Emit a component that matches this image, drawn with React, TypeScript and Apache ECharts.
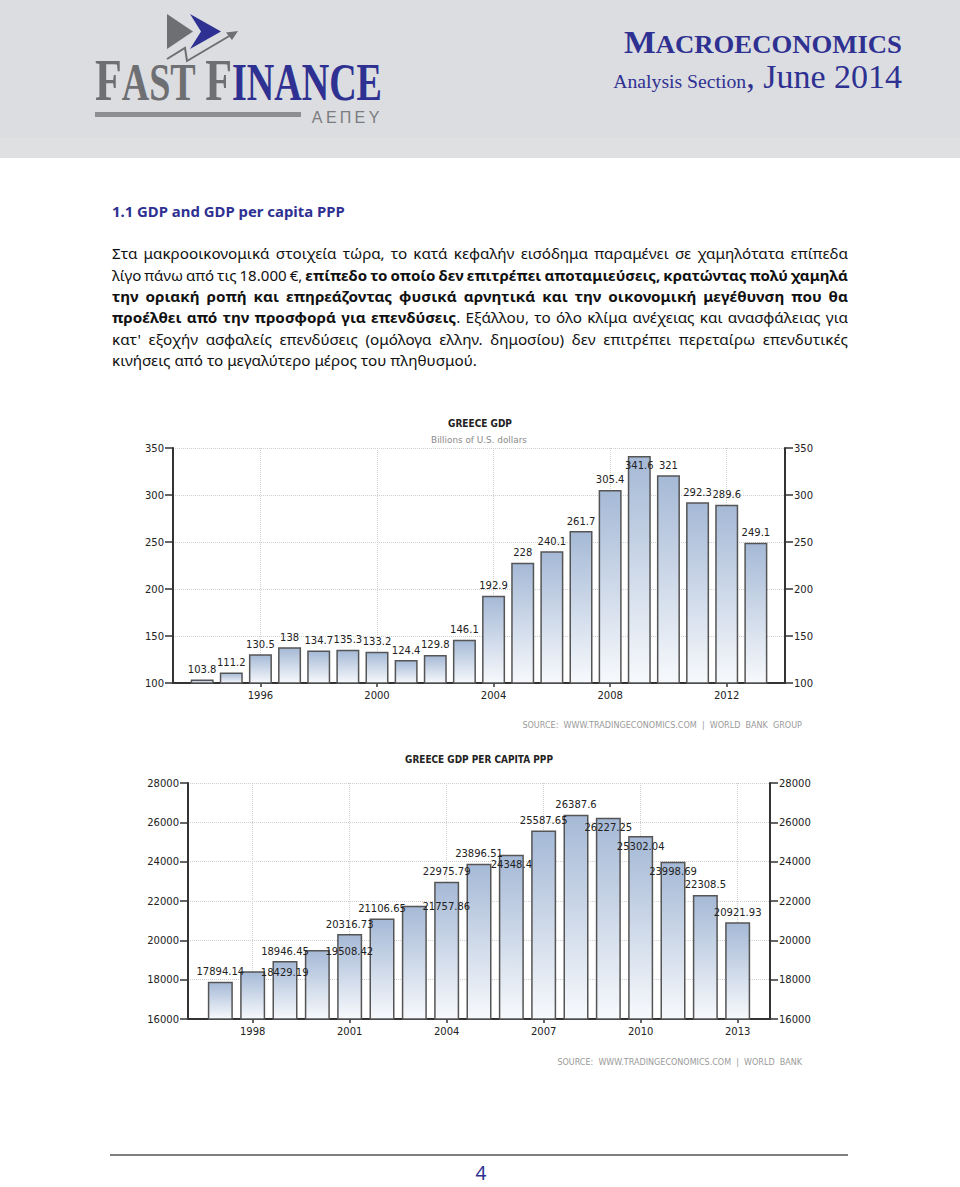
import React, { useEffect, useRef } from 'react';
import * as echarts from 'echarts';

// ---------- DATA ----------
const gdpYears = ['1994', '1995', '1996', '1997', '1998', '1999', '2000', '2001', '2002', '2003', '2004', '2005', '2006', '2007', '2008', '2009', '2010', '2011', '2012', '2013'];
const gdpValues = [103.8, 111.2, 130.5, 138, 134.7, 135.3, 133.2, 124.4, 129.8, 146.1, 192.9, 228, 240.1, 261.7, 305.4, 341.6, 321, 292.3, 289.6, 249.1];
const gdpTickYears = ['1996', '2000', '2004', '2008', '2012'];
const gdpAxisMin = 100;
const gdpAxisMax = 350;
const gdpAxisStep = 50;
const gdpInsideLabelYears = ['2009'];

const pppYears = ['1997', '1998', '1999', '2000', '2001', '2002', '2003', '2004', '2005', '2006', '2007', '2008', '2009', '2010', '2011', '2012', '2013'];
const pppValues = [17894.14, 18429.19, 18946.45, 19508.42, 20316.73, 21106.65, 21757.86, 22975.79, 23896.51, 24348.4, 25587.65, 26387.6, 26227.25, 25302.04, 23998.69, 22308.5, 20921.93];
const pppTickYears = ['1998', '2001', '2004', '2007', '2010', '2013'];
const pppAxisMin = 16000;
const pppAxisMax = 28000;
const pppAxisStep = 2000;
const pppInsideLabelYears = ['2006', '2009', '2010', '2011'];
const pppShiftedLabelYears = ['1998', '2000', '2003'];

// ---------- TEXT CONTENT ----------
type Seg = { t: string; b: boolean };
const headingText = '1.1 GDP and GDP per capita PPP';
const paragraph: Seg[][] = [
  [{ t: 'Στα μακροοικονομικά στοιχεία τώρα, το κατά κεφαλήν εισόδημα παραμένει σε χαμηλότατα επίπεδα', b: false }],
  [{ t: 'λίγο πάνω από τις 18.000 €, ', b: false }, { t: 'επίπεδο το οποίο δεν επιτρέπει αποταμιεύσεις, κρατώντας πολύ χαμηλά', b: true }],
  [{ t: 'την οριακή ροπή και επηρεάζοντας φυσικά αρνητικά και την οικονομική μεγέθυνση που θα', b: true }],
  [{ t: 'προέλθει από την προσφορά για επενδύσεις', b: true }, { t: '. Εξάλλου, το όλο κλίμα ανέχειας και ανασφάλειας για', b: false }],
  [{ t: "κατ' εξοχήν ασφαλείς επενδύσεις (ομόλογα ελλην. δημοσίου) δεν επιτρέπει περεταίρω επενδυτικές", b: false }],
  [{ t: 'κινήσεις από το μεγαλύτερο μέρος του πληθυσμού.', b: false }],
];
const gdpTitle = 'GREECE GDP';
const gdpSubtitle = 'Billions of U.S. dollars';
const gdpSource = 'SOURCE:  WWW.TRADINGECONOMICS.COM  |  WORLD  BANK  GROUP';
const pppTitle = 'GREECE GDP PER CAPITA PPP';
const pppSource = 'SOURCE:  WWW.TRADINGECONOMICS.COM  |  WORLD  BANK';

const NAVY = '#2e3192';
const LOGO_GRAY = '#6d6f72';

function tokenize(segs: Seg[]) {
  const words: Seg[][] = [];
  let cur: Seg[] | null = null;
  for (const s of segs) {
    const parts = s.t.split(' ');
    parts.forEach((p, i) => {
      if (i > 0) {
        if (cur && cur.length) words.push(cur);
        cur = null;
      }
      if (p) {
        if (!cur) cur = [];
        cur.push({ t: p, b: s.b });
      }
    });
  }
  if (cur && (cur as Seg[]).length) words.push(cur);
  return words;
}

export default function App() {
  const ref = useRef<HTMLDivElement>(null);

  useEffect(() => {
    const el = ref.current!;
    const chart = echarts.init(el, null, { renderer: 'svg' });
    const ctx = document.createElement('canvas').getContext('2d')!;
    const mw = (t: string, weight: string, size: number, family: string) => {
      ctx.font = `${weight} ${size}px "${family}"`;
      return ctx.measureText(t).width;
    };

    const g: any[] = [];

    // ---- header band ----
    g.push({ type: 'rect', z: 0, shape: { x: 0, y: 0, width: 960, height: 158 }, style: { fill: '#dcdde0' } });
    g.push({ type: 'rect', z: 0, shape: { x: 0, y: 137, width: 960, height: 21 }, style: { fill: '#dfe0e2' } });

    // ---- logo ----
    g.push({ type: 'polygon', z: 2, shape: { points: [[167, 14], [167, 49], [193, 31.5]] }, style: { fill: LOGO_GRAY } });
    g.push({ type: 'polygon', z: 2, shape: { points: [[190, 14], [221, 31.5], [190, 49], [201, 31.5]] }, style: { fill: NAVY } });
    g.push({ type: 'polyline', z: 2, shape: { points: [[167, 59], [185, 48], [187, 61], [231, 35]] }, style: { stroke: LOGO_GRAY, lineWidth: 2, fill: 'none' } });
    g.push({ type: 'polygon', z: 2, shape: { points: [[238, 31], [226, 32.5], [232, 40]] }, style: { fill: LOGO_GRAY } });

    const serif = 'Liberation Serif';
    const logoParts = [
      { t: 'F', size: 60, color: LOGO_GRAY },
      { t: 'AST ', size: 52, color: LOGO_GRAY },
      { t: 'F', size: 60, color: LOGO_GRAY },
      { t: 'INANCE', size: 52, color: NAVY },
    ];
    const logoNat = logoParts.reduce((a, p) => a + mw(p.t, 'bold', p.size, serif), 0);
    const logoScale = 287 / logoNat;
    let lx = 95;
    logoParts.forEach((p) => {
      g.push({
        type: 'text', z: 3, x: lx, y: 100 - 0.3375 * p.size, scaleX: logoScale,
        style: { text: p.t, fill: p.color, fontFamily: serif, fontWeight: 'bold', fontSize: p.size, align: 'left', verticalAlign: 'middle' },
      });
      lx += mw(p.t, 'bold', p.size, serif) * logoScale;
    });
    g.push({ type: 'rect', z: 2, shape: { x: 95, y: 112, width: 206, height: 5 }, style: { fill: '#8c8e91' } });
    const aepey = ['Α', 'Ε', 'Π', 'Ε', 'Υ'];
    aepey.forEach((ch, i) => {
      g.push({
        type: 'text', z: 3, x: 317 + i * 14.3, y: 117,
        style: { text: ch, fill: '#7a7c7f', fontFamily: 'Liberation Sans', fontSize: 16, align: 'center', verticalAlign: 'middle' },
      });
    });

    // ---- header right ----
    const mW = mw('M', 'bold', 31, serif);
    const restW = mw('ACROECONOMICS', 'bold', 24.6, serif);
    const macroScale = 278 / (mW + restW);
    g.push({ type: 'text', z: 3, x: 624, y: 53 - 0.3375 * 31, scaleX: macroScale, style: { text: 'M', fill: NAVY, fontFamily: serif, fontWeight: 'bold', fontSize: 31, align: 'left', verticalAlign: 'middle' } });
    g.push({ type: 'text', z: 3, x: 624 + mW * macroScale, y: 53 - 0.3375 * 24.6, scaleX: macroScale, style: { text: 'ACROECONOMICS', fill: NAVY, fontFamily: serif, fontWeight: 'bold', fontSize: 24.6, align: 'left', verticalAlign: 'middle' } });
    const juneSize = Math.min(34, Math.max(26, 30 * 159 / mw(', June 2014', 'normal', 30, serif)));
    const juneW = mw(', June 2014', 'normal', juneSize, serif);
    const anSize = Math.min(22, Math.max(17, 20 * 133 / mw('Analysis Section', 'normal', 20, serif)));
    g.push({ type: 'text', z: 3, x: 902, y: 88 - 0.3375 * juneSize, style: { text: ', June 2014', fill: NAVY, fontFamily: serif, fontSize: juneSize, align: 'right', verticalAlign: 'middle' } });
    g.push({ type: 'text', z: 3, x: 902 - juneW, y: 88 - 0.3375 * anSize, style: { text: 'Analysis Section', fill: NAVY, fontFamily: serif, fontSize: anSize, align: 'right', verticalAlign: 'middle' } });

    // ---- heading ----
    const sans = 'Noto Sans';
    const hW = mw(headingText, 'bold', 15, sans);
    g.push({ type: 'text', z: 3, x: 112, y: 211, scaleX: 233 / hW, style: { text: headingText, fill: NAVY, fontFamily: sans, fontWeight: 'bold', fontSize: 15, align: 'left', verticalAlign: 'middle' } });

    // ---- paragraph (justified) ----
    const pSize = 14.5;
    const LEFT = 112, RIGHT = 848, W = RIGHT - LEFT;
    const lineY = [253.5, 274.8, 296.2, 317.5, 338.8, 360.2];
    const lastText = paragraph[paragraph.length - 1].map((s) => s.t).join('');
    const baseScale = Math.min(1.15, Math.max(0.75, 365 / mw(lastText, 'normal', pSize, sans)));
    paragraph.forEach((line, li) => {
      const words = tokenize(line);
      const natural = words.map((w) => w.reduce((a, p) => a + mw(p.t, p.b ? 'bold' : 'normal', pSize, sans), 0));
      const natTotal = natural.reduce((a, b) => a + b, 0);
      const isLast = li === paragraph.length - 1;
      let s = baseScale;
      let gap = mw(' ', 'normal', pSize, sans) * s;
      if (!isLast) {
        gap = (W - natTotal * s) / (words.length - 1);
        if (gap < 3) {
          s = (W - 3 * (words.length - 1)) / natTotal;
          gap = 3;
        }
      }
      let x = LEFT;
      words.forEach((w, wi) => {
        let px = x;
        w.forEach((p) => {
          const weight = p.b ? 'bold' : 'normal';
          g.push({
            type: 'text', z: 3, x: px, y: lineY[li], scaleX: s,
            style: { text: p.t, fill: '#111', fontFamily: sans, fontWeight: weight, fontSize: pSize, align: 'left', verticalAlign: 'middle' },
          });
          px += mw(p.t, weight, pSize, sans) * s;
        });
        x += natural[wi] * s + gap;
      });
    });

    // ---- chart titles & sources ----
    const cf = 'DejaVu Sans';
    const fitText = (text: string, x: number, y: number, width: number, size: number, weight: string, color: string, align: string) => {
      const nat = mw(text, weight, size, cf);
      g.push({ type: 'text', z: 3, x, y, scaleX: width / nat, style: { text, fill: color, fontFamily: cf, fontWeight: weight, fontSize: size, align, verticalAlign: 'middle' } });
    };
    fitText(gdpTitle, 480, 423, 64, 10.5, 'bold', '#222', 'center');
    fitText(gdpSubtitle, 479, 439, 96, 9.5, 'normal', '#8a8a8a', 'center');
    fitText(gdpSource, 802, 725, 280, 8.5, 'normal', '#9a9a9a', 'right');
    fitText(pppTitle, 479, 759, 148, 10.5, 'bold', '#222', 'center');
    fitText(pppSource, 802, 1062, 245, 8.5, 'normal', '#9a9a9a', 'right');

    // ---- footer ----
    g.push({ type: 'line', z: 2, shape: { x1: 110, y1: 1155, x2: 848, y2: 1155 }, style: { stroke: '#7f7f7f', lineWidth: 2 } });
    g.push({ type: 'text', z: 3, x: 481, y: 1173, style: { text: '4', fill: NAVY, fontFamily: sans, fontSize: 19, align: 'center', verticalAlign: 'middle' } });

    // ---- charts ----
    const pad = (years: string[]) => [String(+years[0] - 1), ...years, String(+years[years.length - 1] + 1)];
    const gdpCats = pad(gdpYears);
    const pppCats = pad(pppYears);

    const barFill = () => new echarts.graphic.LinearGradient(0, 0, 0, 1, [
      { offset: 0, color: '#a5b9d6' },
      { offset: 1, color: '#f7f9fc' },
    ]);
    const txt = { fontFamily: cf, fontSize: 10, color: '#222' };
    const dotted = { type: 'dotted', color: '#cfcfcf', width: 1 };
    const axisDark = { color: '#333', width: 2 };

    const xAxisFor = (cats: string[], ticks: string[], gridIndex: number) => {
      const show = (_i: number, v: string) => ticks.includes(v);
      return {
        gridIndex, type: 'category', data: cats, boundaryGap: false,
        axisLine: { onZero: false, lineStyle: axisDark },
        axisTick: { show: true, interval: show, length: 4, lineStyle: { color: '#333', width: 1.5 } },
        axisLabel: { interval: show, margin: 7, ...txt },
        splitLine: { show: true, interval: show, lineStyle: dotted },
      };
    };
    const yAxisFor = (gridIndex: number, min: number, max: number, step: number, pos: string) => ({
      gridIndex, type: 'value', position: pos, min, max, interval: step,
      axisLine: { show: true, lineStyle: axisDark },
      axisTick: { show: true, length: 8, lineStyle: { color: '#333', width: 1.5 } },
      axisLabel: { margin: 9, formatter: (v: number) => String(v), ...txt },
      splitLine: { show: pos === 'left', lineStyle: dotted },
    });

    const gdpData: any[] = ['-', ...gdpValues.map((v, i) => (
      gdpInsideLabelYears.includes(gdpYears[i]) ? { value: v, label: { position: 'insideTop' } } : v
    )), '-'];
    const pppData: any[] = ['-', ...pppValues.map((v, i) => {
      const y = pppYears[i];
      if (pppInsideLabelYears.includes(y)) return { value: v, label: { position: 'insideTop' } };
      if (pppShiftedLabelYears.includes(y)) return { value: v, label: { position: 'top', offset: [32, 11] } };
      return v;
    }), '-'];

    const option: any = {
      animation: false,
      backgroundColor: '#ffffff',
      grid: [
        { left: 173, top: 448, width: 612, height: 235, outerBoundsMode: 'none' },
        { left: 188, top: 783, width: 582, height: 236, outerBoundsMode: 'none' },
      ],
      xAxis: [xAxisFor(gdpCats, gdpTickYears, 0), xAxisFor(pppCats, pppTickYears, 1)],
      yAxis: [
        yAxisFor(0, gdpAxisMin, gdpAxisMax, gdpAxisStep, 'left'),
        yAxisFor(0, gdpAxisMin, gdpAxisMax, gdpAxisStep, 'right'),
        yAxisFor(1, pppAxisMin, pppAxisMax, pppAxisStep, 'left'),
        yAxisFor(1, pppAxisMin, pppAxisMax, pppAxisStep, 'right'),
      ],
      series: [
        {
          type: 'bar', xAxisIndex: 0, yAxisIndex: 0, data: gdpData, barWidth: 23,
          itemStyle: { color: barFill(), borderColor: '#555', borderWidth: 1.5 },
          label: { show: true, position: 'top', distance: 5, ...txt },
        },
        {
          type: 'bar', xAxisIndex: 1, yAxisIndex: 2, data: pppData, barWidth: 25,
          itemStyle: { color: barFill(), borderColor: '#555', borderWidth: 1.5 },
          label: { show: true, position: 'top', distance: 5, ...txt },
        },
      ],
      graphic: { elements: g },
    };

    chart.setOption(option);
    return () => chart.dispose();
  }, []);

  return (
    <div
      ref={ref}
      style={{ position: 'absolute', left: 0, top: 0, width: 960, height: 1187, background: '#fff' }}
    />
  );
}
